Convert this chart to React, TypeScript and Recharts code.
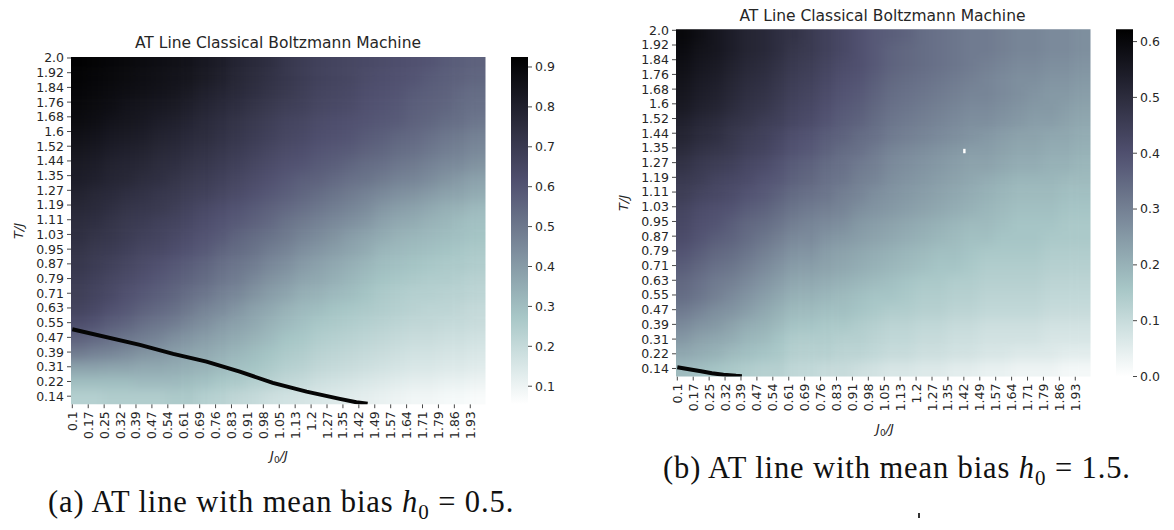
import React from "react";
import { ScatterChart, Scatter, XAxis, YAxis, ReferenceArea } from "recharts";

// tick labels as printed by seaborn
const X_LABELS = ["0.1","0.17","0.25","0.32","0.39","0.47","0.54","0.61","0.69","0.76","0.83","0.91","0.98","1.05","1.13","1.2","1.27","1.35","1.42","1.49","1.57","1.64","1.71","1.79","1.86","1.93"];
const Y_LABELS = ["2.0","1.92","1.84","1.76","1.68","1.6","1.52","1.44","1.35","1.27","1.19","1.11","1.03","0.95","0.87","0.79","0.71","0.63","0.55","0.47","0.39","0.31","0.22","0.14"];
const CB_TICKS_A = [0.1, 0.2, 0.3, 0.4, 0.5, 0.6, 0.7, 0.8, 0.9];
const CB_TICKS_B = [0.0, 0.1, 0.2, 0.3, 0.4, 0.5, 0.6];

// heatmap values (x100), rows from T=2.0 (top) down to T=0.14, columns J0 = 0.1 .. 2.0
const HEAT_A = [
  [92,91,90,89,88,87,86,85,83,81,78,76,74,71,69,67,66,65,64,63,62,61,60,58,57,56],
  [91,90,89,88,87,86,85,84,82,80,77,75,73,71,69,67,66,65,63,62,61,60,58,57,56,55],
  [90,89,88,87,86,85,84,82,80,78,76,74,72,70,68,66,65,64,62,61,60,58,57,56,54,53],
  [89,88,87,85,84,83,82,80,78,76,74,72,70,68,67,65,64,63,61,60,59,57,56,55,53,52],
  [88,87,85,84,83,81,80,78,76,74,72,70,68,66,65,63,62,61,60,59,58,56,55,53,52,50],
  [86,85,83,82,81,79,78,76,75,73,71,69,67,65,64,62,61,60,58,57,55,54,52,50,49,47],
  [84,83,81,80,79,77,76,74,73,71,69,67,65,63,62,60,59,58,56,55,53,52,50,48,47,45],
  [82,81,79,78,77,75,74,72,71,69,67,65,63,61,60,58,57,55,53,52,50,49,47,45,44,42],
  [81,80,78,77,75,74,72,70,69,67,65,63,61,59,57,56,54,52,51,49,47,46,44,42,40,38],
  [79,77,76,74,73,71,70,68,67,65,63,61,59,57,55,53,51,49,47,45,43,42,40,38,37,35],
  [77,76,74,72,71,70,68,66,64,62,60,58,56,54,52,50,48,46,44,41,39,38,36,34,33,31],
  [75,74,72,70,69,67,66,64,62,60,58,56,54,51,49,47,45,43,41,38,36,35,33,32,30,29],
  [74,72,71,69,67,66,64,62,60,58,55,53,51,49,46,44,42,39,37,35,33,32,31,30,29,28],
  [72,70,69,67,65,64,62,60,58,55,53,51,48,46,43,41,39,37,35,32,31,30,29,28,27,26],
  [71,69,67,65,63,61,59,57,55,52,50,48,45,43,40,38,36,34,32,30,29,28,27,26,26,25],
  [69,67,65,63,61,59,57,55,53,50,48,45,42,40,37,36,34,32,30,28,27,26,25,25,24,23],
  [68,66,64,61,59,57,55,52,50,47,45,42,39,37,34,33,31,30,28,26,25,24,24,23,23,22],
  [66,64,61,59,56,54,52,49,46,44,41,38,36,33,31,30,28,27,26,25,24,23,22,22,21,20],
  [62,60,57,55,52,50,48,45,43,40,38,36,33,31,29,27,26,25,24,23,22,21,21,20,20,19],
  [56,54,52,50,48,46,43,41,39,37,35,33,31,28,27,25,24,23,22,21,20,19,19,18,18,17],
  [49,47,46,44,42,41,39,37,36,34,32,30,28,26,25,23,22,21,20,19,18,17,17,16,16,15],
  [38,38,37,37,36,36,35,34,33,31,29,28,26,24,23,21,20,19,18,17,16,15,15,14,14,13],
  [30,30,30,30,31,31,31,30,29,27,26,24,23,21,20,18,17,16,15,14,13,12,12,11,11,10],
  [24,24,25,25,25,25,26,26,24,23,21,20,18,17,16,15,14,13,12,11,10,9,9,8,8,7],
];

const HEAT_B = [
  [60,58,56,54,52,51,49,48,46,44,42,40,38,37,36,34,33,32,31,31,30,29,29,28,28,27],
  [59,57,56,54,52,51,49,47,46,44,42,40,38,36,35,34,33,32,31,31,30,29,29,28,28,27],
  [58,56,55,53,51,50,48,46,45,43,41,40,38,36,35,34,33,32,31,30,29,28,28,27,27,26],
  [57,55,54,52,50,49,47,45,44,42,40,39,37,35,34,33,32,31,30,29,28,27,27,26,26,25],
  [56,54,53,51,49,48,46,44,43,41,39,38,36,34,33,32,31,30,29,29,28,27,26,25,25,24],
  [55,53,52,50,48,47,45,43,42,40,38,37,35,33,32,31,30,29,28,28,27,26,25,25,24,23],
  [53,51,50,48,47,45,44,42,41,39,37,36,34,32,31,30,29,28,27,27,26,25,24,24,23,22],
  [52,50,49,47,45,44,42,40,39,37,36,34,33,31,30,29,28,27,26,25,24,23,23,22,22,21],
  [50,48,47,46,44,43,41,39,38,36,34,33,31,29,28,27,26,25,24,24,23,22,22,21,21,20],
  [48,46,45,44,42,41,39,37,36,34,33,31,30,28,27,26,25,24,23,23,22,21,21,20,20,19],
  [46,45,43,42,41,39,38,36,35,33,32,30,29,27,26,25,24,23,22,21,20,19,19,19,18,18],
  [45,43,42,41,39,38,36,34,33,32,30,29,27,26,25,24,23,22,21,20,19,18,18,18,17,17],
  [43,41,40,39,37,36,34,32,31,30,29,27,26,25,24,23,22,21,20,19,18,17,17,17,16,16],
  [42,40,39,37,35,34,32,30,29,28,27,25,24,23,22,21,20,19,18,18,17,16,16,16,15,15],
  [41,39,37,36,34,32,30,28,28,26,25,24,23,22,21,20,19,18,17,17,16,16,16,15,15,15],
  [39,37,35,34,32,30,28,26,26,24,23,22,21,20,19,18,17,17,16,15,15,15,15,14,14,14],
  [37,35,33,32,30,28,26,24,24,23,22,21,20,19,18,17,16,16,15,14,14,14,14,13,13,13],
  [35,33,31,30,28,26,24,22,22,21,20,19,18,17,16,15,15,14,14,13,13,13,13,12,12,12],
  [34,32,30,28,26,24,22,20,20,19,18,17,16,16,15,14,14,13,13,12,12,12,12,11,11,11],
  [31,29,27,26,24,22,20,18,18,17,17,16,15,14,14,13,13,12,12,11,11,11,11,10,10,10],
  [28,26,25,23,21,20,18,16,16,15,15,14,13,12,12,11,11,10,10,9,9,9,9,8,8,8],
  [25,23,22,21,19,18,16,14,14,14,13,13,12,11,11,10,10,9,9,8,8,8,8,7,7,7],
  [22,21,20,18,17,16,15,13,13,13,12,12,11,10,10,9,9,8,8,7,7,6,6,6,5,5],
  [18,17,16,15,14,13,13,11,11,10,10,9,8,7,7,6,6,5,5,4,4,3,3,3,2,2],
];

// AT line (J0/J, T/J)
const AT_A_J = [0.1, 0.411, 0.564, 0.717, 0.87, 1.022, 1.177, 1.33, 1.406, 1.458];
const AT_A_T = [0.508, 0.422, 0.373, 0.33, 0.275, 0.213, 0.165, 0.125, 0.107, 0.098];
const AT_B_J = [0.1, 0.154, 0.209, 0.259, 0.312, 0.37, 0.397];
const AT_B_T = [0.147, 0.136, 0.125, 0.114, 0.106, 0.1, 0.098];

// single white cell in panel (b)
const SPOT_B_J = [1.42];
const SPOT_B_T = [1.336];

const J_MIN = 0.094, J_MAX = 2.0, T_MIN = 0.096, T_MAX = 2.0055;
const PLOT_W = 414.5, PLOT_H = 347.2;
const Y_AXIS_W = 71;
const FONT = "DejaVu Sans";
const INK = "#262626";
const EDGE = 16; // outer cells are drawn past the plot edge, then clipped

const X_TICKS = X_LABELS.map((_, i) => 0.1 + (i * 1.83) / 25);
const Y_TICKS = Y_LABELS.map((_, i) => 2.0 - (i * 1.86) / 23);

// matplotlib "bone", used reversed
function boneR(t: number) {
  const s = 1 - Math.min(1, Math.max(0, t));
  const r = s < 0.746032 ? (0.652778 / 0.746032) * s : 0.652778 + (s - 0.746032) * (0.347222 / 0.253968);
  const g =
    s < 0.365079
      ? (0.319444 / 0.365079) * s
      : s < 0.746032
      ? 0.319444 + (s - 0.365079) * (0.458334 / 0.380953)
      : 0.777778 + (s - 0.746032) * (0.222222 / 0.253968);
  const b = s < 0.365079 ? (0.444444 / 0.365079) * s : 0.444444 + (s - 0.365079) * (0.555556 / 0.634921);
  const h = (x: number) => Math.round(x * 255).toString(16).padStart(2, "0");
  return `#${h(r)}${h(g)}${h(b)}`;
}

const XTick = (props: any) => {
  const { x, y, payload } = props;
  const i = X_TICKS.findIndex((v) => Math.abs(v - payload.value) < 1e-6);
  return (
    <text
      x={x}
      y={y}
      dy="0.36em"
      transform={`rotate(-90 ${x} ${y})`}
      textAnchor="end"
      fontSize={12.5}
      fontFamily={FONT}
      fill={INK}
    >
      {X_LABELS[i]}
    </text>
  );
};

const yFmt = (v: number) => Y_LABELS[Y_TICKS.findIndex((t) => Math.abs(t - v) < 1e-6)];

function HeatPanel({ id, plotLeft, plotTop, rows, vmin, vmax, atJ, atT, spotJ = [], spotT = [] }: any) {
  const nx = rows[0].length;
  const ny = rows.length;
  const cw = PLOT_W / nx;
  const ch = PLOT_H / ny;
  const cells = rows.flatMap((row: number[], r: number) =>
    row.map((v, k) => ({
      j: J_MIN + ((k + 0.5) * (J_MAX - J_MIN)) / nx,
      t: T_MAX - ((r + 0.5) * (T_MAX - T_MIN)) / ny,
      v: v / 100,
      k,
      r,
    }))
  );
  const line = atJ.map((j: number, i: number) => ({ j, t: atT[i] }));
  const spots = spotJ.map((j: number, i: number) => ({ j, t: spotT[i] }));
  const width = Y_AXIS_W + PLOT_W + 4;
  const height = plotTop + PLOT_H + 60;

  const cellShape = (p: any) => {
    const { k, r, v } = p.payload;
    let x0 = p.cx - cw / 2 - 0.3;
    let x1 = p.cx + cw / 2 + 0.3;
    let y0 = p.cy - ch / 2 - 0.3;
    let y1 = p.cy + ch / 2 + 0.3;
    if (k === 0) x0 -= EDGE;
    if (k === nx - 1) x1 += EDGE;
    if (r === 0) y0 -= EDGE;
    if (r === ny - 1) y1 += EDGE;
    return <rect x={x0} y={y0} width={x1 - x0} height={y1 - y0} fill={boneR((v - vmin) / (vmax - vmin))} />;
  };

  return (
    <div style={{ position: "absolute", left: plotLeft - Y_AXIS_W, top: 0 }}>
      <ScatterChart width={width} height={height} margin={{ top: plotTop, right: 4, bottom: 10, left: 0 }}>
        <defs>
          <clipPath id={`clip-${id}`}>
            <rect x={Y_AXIS_W} y={plotTop} width={PLOT_W} height={PLOT_H} />
          </clipPath>
          <filter
            id={`blur-${id}`}
            x="-5%"
            y="-5%"
            width="110%"
            height="110%"
            colorInterpolationFilters="sRGB"
          >
            <feGaussianBlur stdDeviation="5.5" />
          </filter>
        </defs>
        <XAxis
          type="number"
          dataKey="j"
          domain={[J_MIN, J_MAX]}
          allowDataOverflow
          ticks={X_TICKS}
          interval={0}
          axisLine={false}
          tickLine={{ stroke: "#333", strokeWidth: 0.9 }}
          tickSize={4}
          tickMargin={3}
          height={50}
          tick={XTick}
        />
        <YAxis
          type="number"
          dataKey="t"
          domain={[T_MIN, T_MAX]}
          allowDataOverflow
          ticks={Y_TICKS}
          interval={0}
          width={Y_AXIS_W}
          axisLine={false}
          tickLine={{ stroke: "#333", strokeWidth: 0.9 }}
          tickSize={4}
          tickMargin={3}
          tickFormatter={yFmt}
          tick={{ fontSize: 12.5, fontFamily: FONT, fill: INK }}
        />
        <Scatter data={cells} className={`heat-${id}`} isAnimationActive={false} shape={cellShape} />
        <Scatter
          data={line}
          isAnimationActive={false}
          line={{ stroke: "#050505", strokeWidth: 4 }}
          shape={() => <g />}
        />
        {spots.length > 0 && (
          <Scatter
            data={spots}
            isAnimationActive={false}
            shape={(p: any) => <rect x={p.cx - 1.2} y={p.cy - 2.2} width={2.4} height={4.4} fill="#ffffff" />}
          />
        )}
      </ScatterChart>
    </div>
  );
}

function ColorBar({ left, plotTop, vmin, vmax, ticks, id }: any) {
  const stops = Array.from({ length: 21 }, (_, i) => i / 20);
  return (
    <div style={{ position: "absolute", left, top: 0 }}>
      <ScatterChart width={17 + 45} height={plotTop + PLOT_H + 10} margin={{ top: plotTop, right: 0, bottom: 10, left: 0 }}>
        <defs>
          <linearGradient id={id} x1="0" y1="0" x2="0" y2="1">
            {stops.map((o) => (
              <stop key={o} offset={o} stopColor={boneR(1 - o)} />
            ))}
          </linearGradient>
        </defs>
        <XAxis type="number" dataKey="x" domain={[0, 1]} hide />
        <YAxis
          type="number"
          dataKey="y"
          orientation="right"
          domain={[vmin, vmax]}
          allowDataOverflow
          ticks={ticks}
          interval={0}
          width={45}
          axisLine={false}
          tickLine={{ stroke: "#333", strokeWidth: 0.9 }}
          tickSize={4}
          tickMargin={3}
          tickFormatter={(v: number) => v.toFixed(1)}
          tick={{ fontSize: 12.5, fontFamily: FONT, fill: INK }}
        />
        <ReferenceArea x1={0} x2={1} y1={vmin} y2={vmax} fill={`url(#${id})`} fillOpacity={1} stroke="none" />
        <Scatter data={ticks.map((v: number) => ({ x: 0.5, y: v }))} isAnimationActive={false} shape={() => <g />} />
      </ScatterChart>
    </div>
  );
}

const txt = (x: number, y: number, extra: any = {}): React.CSSProperties => ({
  position: "absolute",
  left: x,
  top: y,
  transform: "translate(-50%, -50%)",
  whiteSpace: "nowrap",
  color: INK,
  fontFamily: FONT,
  lineHeight: 1,
  ...extra,
});

const Caption = ({ left, top, tag, bias }: any) => (
  <div
    style={{
      position: "absolute",
      left,
      top,
      transform: "translateY(-50%)",
      whiteSpace: "nowrap",
      fontFamily: "'Liberation Serif', serif",
      fontSize: 30.5,
      letterSpacing: 0.9,
      color: "#111",
      lineHeight: 1,
    }}
  >
    ({tag}) AT line with mean bias <i>h</i>
    <sub style={{ fontSize: 21 }}>0</sub> = {bias}.
  </div>
);

export default function App() {
  return (
    <div style={{ position: "absolute", left: 0, top: 0, width: 1174, height: 530, background: "#fff", overflow: "hidden" }}>
      <style>{`
        .heat-a { filter: url(#blur-a); clip-path: url(#clip-a); }
        .heat-b { filter: url(#blur-b); clip-path: url(#clip-b); }
      `}</style>
      <HeatPanel id="a" plotLeft={71} plotTop={57} rows={HEAT_A} vmin={0.055} vmax={0.925} atJ={AT_A_J} atT={AT_A_T} />
      <ColorBar left={510.7} plotTop={57} vmin={0.055} vmax={0.925} ticks={CB_TICKS_A} id="cbA" />
      <HeatPanel
        id="b"
        plotLeft={676}
        plotTop={29.3}
        rows={HEAT_B}
        vmin={0}
        vmax={0.622}
        atJ={AT_B_J}
        atT={AT_B_T}
        spotJ={SPOT_B_J}
        spotT={SPOT_B_T}
      />
      <ColorBar left={1115.7} plotTop={29.3} vmin={0} vmax={0.622} ticks={CB_TICKS_B} id="cbB" />

      <div style={txt(278, 44, { fontSize: 15.5 })}>AT Line Classical Boltzmann Machine</div>
      <div style={txt(882.5, 17, { fontSize: 15.5 })}>AT Line Classical Boltzmann Machine</div>

      <div style={txt(18, 231, { fontSize: 13, fontStyle: "italic", transform: "translate(-50%, -50%) rotate(-90deg)" })}>T/J</div>
      <div style={txt(623, 203, { fontSize: 13, fontStyle: "italic", transform: "translate(-50%, -50%) rotate(-90deg)" })}>T/J</div>
      <div style={txt(279, 457, { fontSize: 13 })}>
        <i>J</i>
        <span style={{ fontSize: 9, verticalAlign: "-0.25em" }}>0</span>
        <i>/J</i>
      </div>
      <div style={txt(885, 430, { fontSize: 13 })}>
        <i>J</i>
        <span style={{ fontSize: 9, verticalAlign: "-0.25em" }}>0</span>
        <i>/J</i>
      </div>

      <Caption left={663} top={471} tag="b" bias="1.5" />
      <Caption left={48} top={505} tag="a" bias="0.5" />
      <div style={{ position: "absolute", left: 918, top: 513, width: 2, height: 5, background: "#333" }} />
    </div>
  );
}
